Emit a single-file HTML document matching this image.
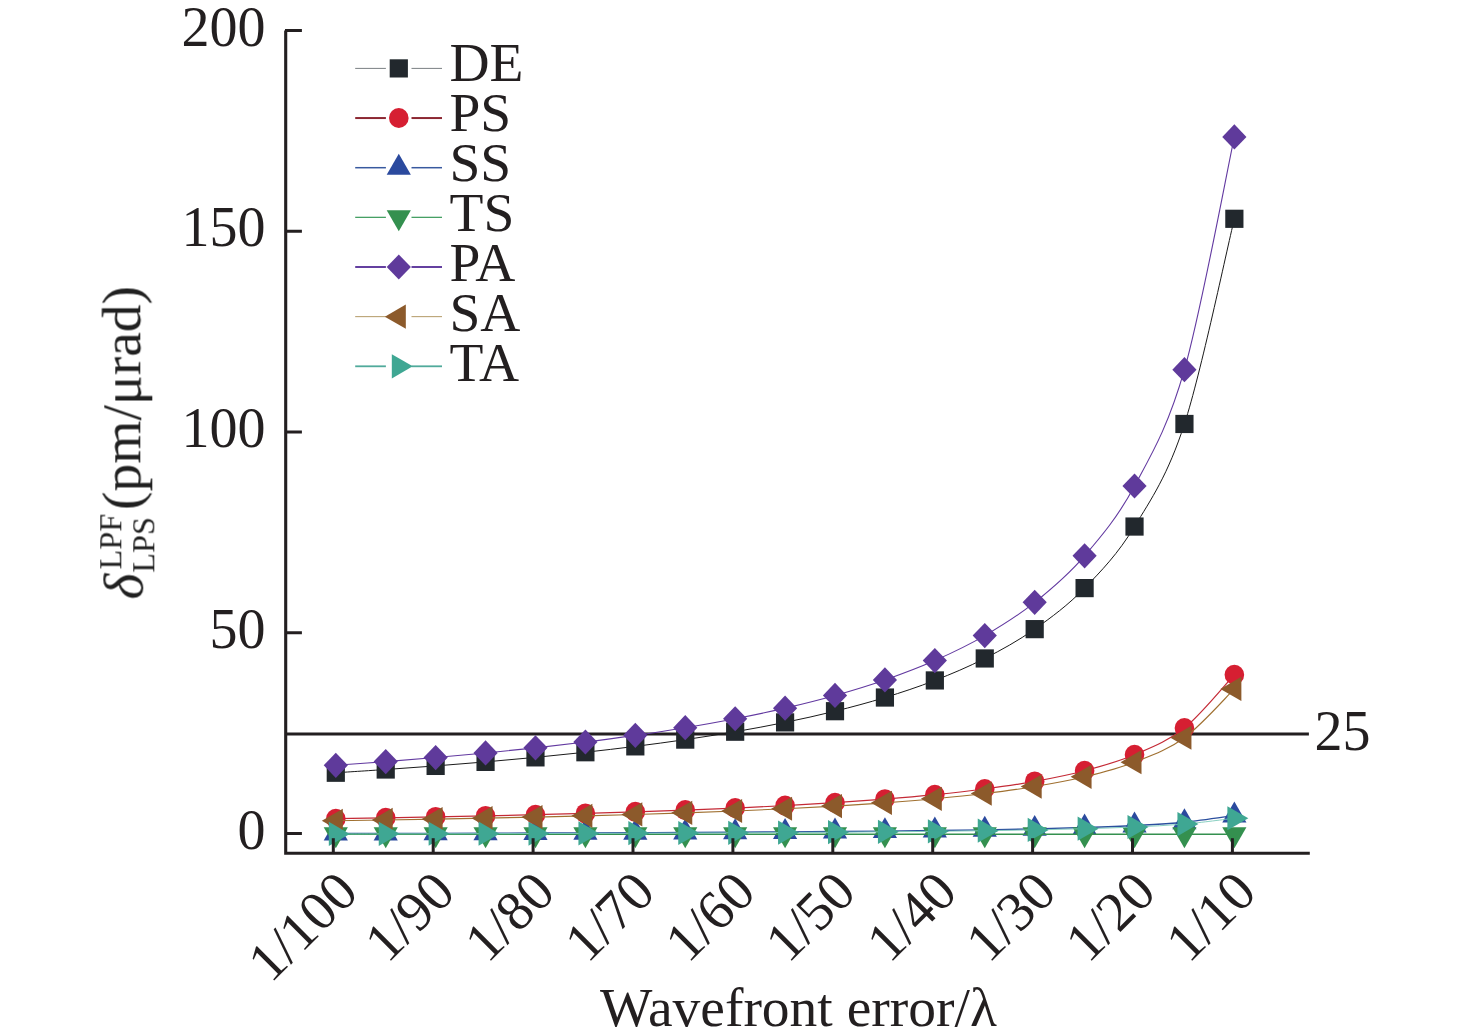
<!DOCTYPE html>
<html><head><meta charset="utf-8"><title>chart</title>
<style>
html,body{margin:0;padding:0;background:#fff;}
body{width:1476px;height:1036px;overflow:hidden;}
svg{display:block;}
text{font-family:"Liberation Serif",serif;fill:#231f20;}
</style></head><body>
<svg width="1476" height="1036" viewBox="0 0 1476 1036">
<defs><filter id="gs" x="-10%" y="-10%" width="120%" height="120%" color-interpolation-filters="sRGB"><feColorMatrix type="saturate" values="0"/></filter></defs>
<rect width="1476" height="1036" fill="#fff"/>
<line x1="286" y1="734" x2="1308.9" y2="734" stroke="#231f20" stroke-width="2.8"/>
<path d="M335.80 772.75C344.12 772.21 369.08 770.65 385.72 769.51C402.36 768.37 419.00 767.18 435.64 765.91C452.28 764.64 468.92 763.32 485.56 761.89C502.20 760.47 518.84 758.97 535.48 757.37C552.12 755.76 568.76 754.07 585.40 752.24C602.04 750.40 618.68 748.48 635.32 746.37C651.96 744.27 668.60 742.05 685.24 739.61C701.88 737.17 718.52 734.59 735.16 731.72C751.80 728.85 768.44 725.81 785.08 722.39C801.72 718.97 818.36 715.35 835.00 711.20C851.64 707.06 868.28 702.65 884.92 697.53C901.56 692.40 918.20 686.94 934.84 680.43C951.48 673.91 968.12 666.99 984.76 658.45C1001.40 649.90 1018.04 640.86 1034.68 629.14C1051.32 617.41 1067.96 605.20 1084.60 588.10C1101.24 571.01 1117.88 553.91 1134.52 526.55C1151.16 499.20 1167.80 475.26 1184.44 423.97C1201.08 372.68 1226.04 253.00 1234.36 218.80" fill="none" stroke="#1a1a1a" stroke-width="1.0"/>
<rect x="326.70" y="763.65" width="18.2" height="18.2" fill="#22282d"/>
<rect x="376.62" y="760.41" width="18.2" height="18.2" fill="#22282d"/>
<rect x="426.54" y="756.81" width="18.2" height="18.2" fill="#22282d"/>
<rect x="476.46" y="752.79" width="18.2" height="18.2" fill="#22282d"/>
<rect x="526.38" y="748.27" width="18.2" height="18.2" fill="#22282d"/>
<rect x="576.30" y="743.14" width="18.2" height="18.2" fill="#22282d"/>
<rect x="626.22" y="737.27" width="18.2" height="18.2" fill="#22282d"/>
<rect x="676.14" y="730.51" width="18.2" height="18.2" fill="#22282d"/>
<rect x="726.06" y="722.62" width="18.2" height="18.2" fill="#22282d"/>
<rect x="775.98" y="713.29" width="18.2" height="18.2" fill="#22282d"/>
<rect x="825.90" y="702.10" width="18.2" height="18.2" fill="#22282d"/>
<rect x="875.82" y="688.43" width="18.2" height="18.2" fill="#22282d"/>
<rect x="925.74" y="671.33" width="18.2" height="18.2" fill="#22282d"/>
<rect x="975.66" y="649.35" width="18.2" height="18.2" fill="#22282d"/>
<rect x="1025.58" y="620.04" width="18.2" height="18.2" fill="#22282d"/>
<rect x="1075.50" y="579.00" width="18.2" height="18.2" fill="#22282d"/>
<rect x="1125.42" y="517.45" width="18.2" height="18.2" fill="#22282d"/>
<rect x="1175.34" y="414.87" width="18.2" height="18.2" fill="#22282d"/>
<rect x="1225.26" y="209.70" width="18.2" height="18.2" fill="#22282d"/>
<path d="M335.80 818.71C344.12 818.57 369.08 818.16 385.72 817.87C402.36 817.57 419.00 817.26 435.64 816.93C452.28 816.60 468.92 816.26 485.56 815.89C502.20 815.52 518.84 815.13 535.48 814.71C552.12 814.29 568.76 813.85 585.40 813.38C602.04 812.90 618.68 812.40 635.32 811.85C651.96 811.31 668.60 810.73 685.24 810.10C701.88 809.46 718.52 808.79 735.16 808.04C751.80 807.30 768.44 806.51 785.08 805.62C801.72 804.73 818.36 803.79 835.00 802.71C851.64 801.64 868.28 800.49 884.92 799.16C901.56 797.83 918.20 796.41 934.84 794.72C951.48 793.02 968.12 791.22 984.76 789.00C1001.40 786.78 1018.04 784.43 1034.68 781.39C1051.32 778.34 1067.96 775.16 1084.60 770.72C1101.24 766.28 1117.88 761.83 1134.52 754.73C1151.16 747.62 1167.80 741.40 1184.44 728.07C1201.08 714.74 1226.04 683.63 1234.36 674.75" fill="none" stroke="#c42a36" stroke-width="1.2"/>
<ellipse cx="335.80" cy="818.71" rx="9.8" ry="10" fill="#d61f32"/>
<ellipse cx="385.72" cy="817.87" rx="9.8" ry="10" fill="#d61f32"/>
<ellipse cx="435.64" cy="816.93" rx="9.8" ry="10" fill="#d61f32"/>
<ellipse cx="485.56" cy="815.89" rx="9.8" ry="10" fill="#d61f32"/>
<ellipse cx="535.48" cy="814.71" rx="9.8" ry="10" fill="#d61f32"/>
<ellipse cx="585.40" cy="813.38" rx="9.8" ry="10" fill="#d61f32"/>
<ellipse cx="635.32" cy="811.85" rx="9.8" ry="10" fill="#d61f32"/>
<ellipse cx="685.24" cy="810.10" rx="9.8" ry="10" fill="#d61f32"/>
<ellipse cx="735.16" cy="808.04" rx="9.8" ry="10" fill="#d61f32"/>
<ellipse cx="785.08" cy="805.62" rx="9.8" ry="10" fill="#d61f32"/>
<ellipse cx="835.00" cy="802.71" rx="9.8" ry="10" fill="#d61f32"/>
<ellipse cx="884.92" cy="799.16" rx="9.8" ry="10" fill="#d61f32"/>
<ellipse cx="934.84" cy="794.72" rx="9.8" ry="10" fill="#d61f32"/>
<ellipse cx="984.76" cy="789.00" rx="9.8" ry="10" fill="#d61f32"/>
<ellipse cx="1034.68" cy="781.39" rx="9.8" ry="10" fill="#d61f32"/>
<ellipse cx="1084.60" cy="770.72" rx="9.8" ry="10" fill="#d61f32"/>
<ellipse cx="1134.52" cy="754.73" rx="9.8" ry="10" fill="#d61f32"/>
<ellipse cx="1184.44" cy="728.07" rx="9.8" ry="10" fill="#d61f32"/>
<ellipse cx="1234.36" cy="674.75" rx="9.8" ry="10" fill="#d61f32"/>
<path d="M335.80 833.55C344.12 833.53 369.08 833.48 385.72 833.44C402.36 833.41 419.00 833.37 435.64 833.33C452.28 833.28 468.92 833.24 485.56 833.20C502.20 833.15 518.84 833.10 535.48 833.05C552.12 833.00 568.76 832.94 585.40 832.88C602.04 832.82 618.68 832.76 635.32 832.69C651.96 832.62 668.60 832.55 685.24 832.47C701.88 832.39 718.52 832.31 735.16 832.22C751.80 832.12 768.44 832.02 785.08 831.91C801.72 831.80 818.36 831.68 835.00 831.55C851.64 831.41 868.28 831.27 884.92 831.10C901.56 830.94 918.20 830.76 934.84 830.55C951.48 830.34 968.12 830.11 984.76 829.83C1001.40 829.56 1018.04 829.26 1034.68 828.88C1051.32 828.50 1067.96 828.11 1084.60 827.55C1101.24 826.99 1117.88 826.44 1134.52 825.55C1151.16 824.66 1167.80 823.88 1184.44 822.22C1201.08 820.55 1226.04 816.66 1234.36 815.55" fill="none" stroke="#2b4f9e" stroke-width="1.4"/>
<path d="M335.80 819.58L347.90 840.53L323.70 840.53Z" fill="#2b4a9e"/>
<path d="M385.72 819.47L397.82 840.43L373.62 840.43Z" fill="#2b4a9e"/>
<path d="M435.64 819.35L447.74 840.31L423.54 840.31Z" fill="#2b4a9e"/>
<path d="M485.56 819.22L497.66 840.18L473.46 840.18Z" fill="#2b4a9e"/>
<path d="M535.48 819.08L547.58 840.03L523.38 840.03Z" fill="#2b4a9e"/>
<path d="M585.40 818.91L597.50 839.87L573.30 839.87Z" fill="#2b4a9e"/>
<path d="M635.32 818.72L647.42 839.68L623.22 839.68Z" fill="#2b4a9e"/>
<path d="M685.24 818.50L697.34 839.46L673.14 839.46Z" fill="#2b4a9e"/>
<path d="M735.16 818.24L747.26 839.20L723.06 839.20Z" fill="#2b4a9e"/>
<path d="M785.08 817.94L797.18 838.90L772.98 838.90Z" fill="#2b4a9e"/>
<path d="M835.00 817.58L847.10 838.53L822.90 838.53Z" fill="#2b4a9e"/>
<path d="M884.92 817.13L897.02 838.09L872.82 838.09Z" fill="#2b4a9e"/>
<path d="M934.84 816.58L946.94 837.53L922.74 837.53Z" fill="#2b4a9e"/>
<path d="M984.76 815.86L996.86 836.82L972.66 836.82Z" fill="#2b4a9e"/>
<path d="M1034.68 814.91L1046.78 835.87L1022.58 835.87Z" fill="#2b4a9e"/>
<path d="M1084.60 813.58L1096.70 834.54L1072.50 834.54Z" fill="#2b4a9e"/>
<path d="M1134.52 811.58L1146.62 832.54L1122.42 832.54Z" fill="#2b4a9e"/>
<path d="M1184.44 808.25L1196.54 829.20L1172.34 829.20Z" fill="#2b4a9e"/>
<path d="M1234.36 801.58L1246.46 822.54L1222.26 822.54Z" fill="#2b4a9e"/>
<path d="M335.80 834.30C344.12 834.30 369.08 834.30 385.72 834.30C402.36 834.30 419.00 834.30 435.64 834.30C452.28 834.30 468.92 834.30 485.56 834.30C502.20 834.30 518.84 834.30 535.48 834.30C552.12 834.30 568.76 834.30 585.40 834.30C602.04 834.30 618.68 834.30 635.32 834.30C651.96 834.30 668.60 834.30 685.24 834.30C701.88 834.30 718.52 834.30 735.16 834.30C751.80 834.30 768.44 834.30 785.08 834.30C801.72 834.30 818.36 834.30 835.00 834.30C851.64 834.30 868.28 834.30 884.92 834.30C901.56 834.30 918.20 834.30 934.84 834.30C951.48 834.30 968.12 834.30 984.76 834.30C1001.40 834.30 1018.04 834.30 1034.68 834.30C1051.32 834.30 1067.96 834.30 1084.60 834.30C1101.24 834.30 1117.88 834.30 1134.52 834.30C1151.16 834.30 1167.80 834.30 1184.44 834.30C1201.08 834.30 1226.04 834.30 1234.36 834.30" fill="none" stroke="#34904f" stroke-width="1.6"/>
<path d="M335.80 848.27L347.90 827.32L323.70 827.32Z" fill="#34904f"/>
<path d="M385.72 848.27L397.82 827.32L373.62 827.32Z" fill="#34904f"/>
<path d="M435.64 848.27L447.74 827.32L423.54 827.32Z" fill="#34904f"/>
<path d="M485.56 848.27L497.66 827.32L473.46 827.32Z" fill="#34904f"/>
<path d="M535.48 848.27L547.58 827.32L523.38 827.32Z" fill="#34904f"/>
<path d="M585.40 848.27L597.50 827.32L573.30 827.32Z" fill="#34904f"/>
<path d="M635.32 848.27L647.42 827.32L623.22 827.32Z" fill="#34904f"/>
<path d="M685.24 848.27L697.34 827.32L673.14 827.32Z" fill="#34904f"/>
<path d="M735.16 848.27L747.26 827.32L723.06 827.32Z" fill="#34904f"/>
<path d="M785.08 848.27L797.18 827.32L772.98 827.32Z" fill="#34904f"/>
<path d="M835.00 848.27L847.10 827.32L822.90 827.32Z" fill="#34904f"/>
<path d="M884.92 848.27L897.02 827.32L872.82 827.32Z" fill="#34904f"/>
<path d="M934.84 848.27L946.94 827.32L922.74 827.32Z" fill="#34904f"/>
<path d="M984.76 848.27L996.86 827.32L972.66 827.32Z" fill="#34904f"/>
<path d="M1034.68 848.27L1046.78 827.32L1022.58 827.32Z" fill="#34904f"/>
<path d="M1084.60 848.27L1096.70 827.32L1072.50 827.32Z" fill="#34904f"/>
<path d="M1134.52 848.27L1146.62 827.32L1122.42 827.32Z" fill="#34904f"/>
<path d="M1184.44 848.27L1196.54 827.32L1172.34 827.32Z" fill="#34904f"/>
<path d="M1234.36 848.27L1246.46 827.32L1222.26 827.32Z" fill="#34904f"/>
<path d="M335.80 765.29C344.12 764.67 369.08 762.90 385.72 761.61C402.36 760.32 419.00 758.97 435.64 757.53C452.28 756.09 468.92 754.58 485.56 752.96C502.20 751.35 518.84 749.66 535.48 747.83C552.12 746.00 568.76 744.09 585.40 742.01C602.04 739.93 618.68 737.75 635.32 735.36C651.96 732.97 668.60 730.46 685.24 727.69C701.88 724.92 718.52 721.99 735.16 718.74C751.80 715.48 768.44 712.04 785.08 708.16C801.72 704.28 818.36 700.17 835.00 695.46C851.64 690.76 868.28 685.77 884.92 679.95C901.56 674.13 918.20 667.94 934.84 660.55C951.48 653.17 968.12 645.32 984.76 635.62C1001.40 625.92 1018.04 615.67 1034.68 602.37C1051.32 589.07 1067.96 575.22 1084.60 555.82C1101.24 536.43 1117.88 517.03 1134.52 486.00C1151.16 454.97 1167.80 427.82 1184.44 369.63C1201.08 311.45 1226.04 175.69 1234.36 136.90" fill="none" stroke="#6239a0" stroke-width="1.1"/>
<path d="M335.80 752.69L347.90 765.29L335.80 777.89L323.70 765.29Z" fill="#5f3a9b"/>
<path d="M385.72 749.01L397.82 761.61L385.72 774.21L373.62 761.61Z" fill="#5f3a9b"/>
<path d="M435.64 744.93L447.74 757.53L435.64 770.13L423.54 757.53Z" fill="#5f3a9b"/>
<path d="M485.56 740.36L497.66 752.96L485.56 765.56L473.46 752.96Z" fill="#5f3a9b"/>
<path d="M535.48 735.23L547.58 747.83L535.48 760.43L523.38 747.83Z" fill="#5f3a9b"/>
<path d="M585.40 729.41L597.50 742.01L585.40 754.61L573.30 742.01Z" fill="#5f3a9b"/>
<path d="M635.32 722.76L647.42 735.36L635.32 747.96L623.22 735.36Z" fill="#5f3a9b"/>
<path d="M685.24 715.09L697.34 727.69L685.24 740.29L673.14 727.69Z" fill="#5f3a9b"/>
<path d="M735.16 706.14L747.26 718.74L735.16 731.34L723.06 718.74Z" fill="#5f3a9b"/>
<path d="M785.08 695.56L797.18 708.16L785.08 720.76L772.98 708.16Z" fill="#5f3a9b"/>
<path d="M835.00 682.86L847.10 695.46L835.00 708.06L822.90 695.46Z" fill="#5f3a9b"/>
<path d="M884.92 667.35L897.02 679.95L884.92 692.55L872.82 679.95Z" fill="#5f3a9b"/>
<path d="M934.84 647.95L946.94 660.55L934.84 673.15L922.74 660.55Z" fill="#5f3a9b"/>
<path d="M984.76 623.02L996.86 635.62L984.76 648.22L972.66 635.62Z" fill="#5f3a9b"/>
<path d="M1034.68 589.77L1046.78 602.37L1034.68 614.97L1022.58 602.37Z" fill="#5f3a9b"/>
<path d="M1084.60 543.22L1096.70 555.82L1084.60 568.42L1072.50 555.82Z" fill="#5f3a9b"/>
<path d="M1134.52 473.40L1146.62 486.00L1134.52 498.60L1122.42 486.00Z" fill="#5f3a9b"/>
<path d="M1184.44 357.03L1196.54 369.63L1184.44 382.23L1172.34 369.63Z" fill="#5f3a9b"/>
<path d="M1234.36 124.30L1246.46 136.90L1234.36 149.50L1222.26 136.90Z" fill="#5f3a9b"/>
<path d="M335.80 820.74C344.12 820.62 369.08 820.24 385.72 819.97C402.36 819.70 419.00 819.42 435.64 819.12C452.28 818.82 468.92 818.50 485.56 818.16C502.20 817.82 518.84 817.47 535.48 817.08C552.12 816.70 568.76 816.30 585.40 815.86C602.04 815.43 618.68 814.97 635.32 814.47C651.96 813.97 668.60 813.44 685.24 812.86C701.88 812.28 718.52 811.67 735.16 810.98C751.80 810.30 768.44 809.58 785.08 808.76C801.72 807.95 818.36 807.09 835.00 806.10C851.64 805.12 868.28 804.07 884.92 802.85C901.56 801.63 918.20 800.33 934.84 798.78C951.48 797.23 968.12 795.58 984.76 793.55C1001.40 791.52 1018.04 789.37 1034.68 786.58C1051.32 783.79 1067.96 780.88 1084.60 776.82C1101.24 772.75 1117.88 768.68 1134.52 762.17C1151.16 755.67 1167.80 749.97 1184.44 737.77C1201.08 725.57 1226.04 697.09 1234.36 688.96" fill="none" stroke="#a07030" stroke-width="1.1"/>
<path d="M321.83 820.74L342.79 808.64L342.79 832.84Z" fill="#8c5a2b"/>
<path d="M371.75 819.97L392.71 807.87L392.71 832.07Z" fill="#8c5a2b"/>
<path d="M421.67 819.12L442.63 807.02L442.63 831.22Z" fill="#8c5a2b"/>
<path d="M471.59 818.16L492.55 806.06L492.55 830.26Z" fill="#8c5a2b"/>
<path d="M521.51 817.08L542.47 804.98L542.47 829.18Z" fill="#8c5a2b"/>
<path d="M571.43 815.86L592.39 803.76L592.39 827.96Z" fill="#8c5a2b"/>
<path d="M621.35 814.47L642.31 802.37L642.31 826.57Z" fill="#8c5a2b"/>
<path d="M671.27 812.86L692.23 800.76L692.23 824.96Z" fill="#8c5a2b"/>
<path d="M721.19 810.98L742.15 798.88L742.15 823.08Z" fill="#8c5a2b"/>
<path d="M771.11 808.76L792.07 796.66L792.07 820.86Z" fill="#8c5a2b"/>
<path d="M821.03 806.10L841.99 794.00L841.99 818.20Z" fill="#8c5a2b"/>
<path d="M870.95 802.85L891.91 790.75L891.91 814.95Z" fill="#8c5a2b"/>
<path d="M920.87 798.78L941.83 786.68L941.83 810.88Z" fill="#8c5a2b"/>
<path d="M970.79 793.55L991.75 781.45L991.75 805.65Z" fill="#8c5a2b"/>
<path d="M1020.71 786.58L1041.67 774.48L1041.67 798.68Z" fill="#8c5a2b"/>
<path d="M1070.63 776.82L1091.59 764.72L1091.59 788.92Z" fill="#8c5a2b"/>
<path d="M1120.55 762.17L1141.51 750.07L1141.51 774.27Z" fill="#8c5a2b"/>
<path d="M1170.47 737.77L1191.43 725.67L1191.43 749.87Z" fill="#8c5a2b"/>
<path d="M1220.39 688.96L1241.35 676.86L1241.35 701.06Z" fill="#8c5a2b"/>
<path d="M335.80 833.96C344.12 833.95 369.08 833.90 385.72 833.87C402.36 833.84 419.00 833.80 435.64 833.77C452.28 833.73 468.92 833.69 485.56 833.65C502.20 833.61 518.84 833.57 535.48 833.53C552.12 833.48 568.76 833.43 585.40 833.38C602.04 833.33 618.68 833.27 635.32 833.21C651.96 833.15 668.60 833.09 685.24 833.02C701.88 832.95 718.52 832.88 735.16 832.80C751.80 832.72 768.44 832.63 785.08 832.53C801.72 832.44 818.36 832.33 835.00 832.22C851.64 832.10 868.28 831.97 884.92 831.83C901.56 831.68 918.20 831.53 934.84 831.34C951.48 831.16 968.12 830.96 984.76 830.72C1001.40 830.48 1018.04 830.22 1034.68 829.89C1051.32 829.55 1067.96 829.21 1084.60 828.72C1101.24 828.24 1117.88 827.75 1134.52 826.98C1151.16 826.20 1167.80 825.52 1184.44 824.06C1201.08 822.61 1226.04 819.21 1234.36 818.24" fill="none" stroke="#7cc9ba" stroke-width="0.9"/>
<path d="M349.77 833.96L328.81 821.86L328.81 846.06Z" fill="#3fa793"/>
<path d="M399.69 833.87L378.73 821.77L378.73 845.97Z" fill="#3fa793"/>
<path d="M449.61 833.77L428.65 821.67L428.65 845.87Z" fill="#3fa793"/>
<path d="M499.53 833.65L478.57 821.55L478.57 845.75Z" fill="#3fa793"/>
<path d="M549.45 833.53L528.49 821.43L528.49 845.63Z" fill="#3fa793"/>
<path d="M599.37 833.38L578.41 821.28L578.41 845.48Z" fill="#3fa793"/>
<path d="M649.29 833.21L628.33 821.11L628.33 845.31Z" fill="#3fa793"/>
<path d="M699.21 833.02L678.25 820.92L678.25 845.12Z" fill="#3fa793"/>
<path d="M749.13 832.80L728.17 820.70L728.17 844.90Z" fill="#3fa793"/>
<path d="M799.05 832.53L778.09 820.43L778.09 844.63Z" fill="#3fa793"/>
<path d="M848.97 832.22L828.01 820.12L828.01 844.32Z" fill="#3fa793"/>
<path d="M898.89 831.83L877.93 819.73L877.93 843.93Z" fill="#3fa793"/>
<path d="M948.81 831.34L927.85 819.24L927.85 843.44Z" fill="#3fa793"/>
<path d="M998.73 830.72L977.77 818.62L977.77 842.82Z" fill="#3fa793"/>
<path d="M1048.65 829.89L1027.69 817.79L1027.69 841.99Z" fill="#3fa793"/>
<path d="M1098.57 828.72L1077.61 816.62L1077.61 840.82Z" fill="#3fa793"/>
<path d="M1148.49 826.98L1127.53 814.88L1127.53 839.08Z" fill="#3fa793"/>
<path d="M1198.41 824.06L1177.45 811.96L1177.45 836.16Z" fill="#3fa793"/>
<path d="M1248.33 818.24L1227.37 806.14L1227.37 830.34Z" fill="#3fa793"/>
<path d="M285.7 30.5V853.3H1309.8" fill="none" stroke="#231f20" stroke-width="3.1" stroke-linejoin="miter"/>
<line x1="285" y1="833.50" x2="301.9" y2="833.50" stroke="#231f20" stroke-width="3"/>
<line x1="285" y1="632.75" x2="301.9" y2="632.75" stroke="#231f20" stroke-width="3"/>
<line x1="285" y1="432.00" x2="301.9" y2="432.00" stroke="#231f20" stroke-width="3"/>
<line x1="285" y1="231.25" x2="301.9" y2="231.25" stroke="#231f20" stroke-width="3"/>
<line x1="285" y1="30.50" x2="301.9" y2="30.50" stroke="#231f20" stroke-width="3"/>
<line x1="333.30" y1="838.2" x2="333.30" y2="853" stroke="#231f20" stroke-width="3"/>
<line x1="433.20" y1="838.2" x2="433.20" y2="853" stroke="#231f20" stroke-width="3"/>
<line x1="533.10" y1="838.2" x2="533.10" y2="853" stroke="#231f20" stroke-width="3"/>
<line x1="633.00" y1="838.2" x2="633.00" y2="853" stroke="#231f20" stroke-width="3"/>
<line x1="732.90" y1="838.2" x2="732.90" y2="853" stroke="#231f20" stroke-width="3"/>
<line x1="832.80" y1="838.2" x2="832.80" y2="853" stroke="#231f20" stroke-width="3"/>
<line x1="932.70" y1="838.2" x2="932.70" y2="853" stroke="#231f20" stroke-width="3"/>
<line x1="1032.60" y1="838.2" x2="1032.60" y2="853" stroke="#231f20" stroke-width="3"/>
<line x1="1132.50" y1="838.2" x2="1132.50" y2="853" stroke="#231f20" stroke-width="3"/>
<line x1="1232.40" y1="838.2" x2="1232.40" y2="853" stroke="#231f20" stroke-width="3"/>
<text x="265.4" y="848.60" font-size="56" text-anchor="end">0</text>
<text x="265.4" y="647.85" font-size="56" text-anchor="end">50</text>
<text x="265.4" y="447.10" font-size="56" text-anchor="end">100</text>
<text x="265.4" y="246.35" font-size="56" text-anchor="end">150</text>
<text x="265.4" y="45.60" font-size="56" text-anchor="end">200</text>
<text x="1314.6" y="750.0" font-size="56">25</text>
<text transform="translate(360.25 894.60) rotate(-45)" font-size="55.5" text-anchor="end">1/100</text>
<text transform="translate(457.25 894.60) rotate(-45)" font-size="55.5" text-anchor="end">1/90</text>
<text transform="translate(557.25 894.60) rotate(-45)" font-size="55.5" text-anchor="end">1/80</text>
<text transform="translate(657.25 894.60) rotate(-45)" font-size="55.5" text-anchor="end">1/70</text>
<text transform="translate(757.75 894.60) rotate(-45)" font-size="55.5" text-anchor="end">1/60</text>
<text transform="translate(858.00 894.60) rotate(-45)" font-size="55.5" text-anchor="end">1/50</text>
<text transform="translate(959.25 894.60) rotate(-45)" font-size="55.5" text-anchor="end">1/40</text>
<text transform="translate(1058.50 894.60) rotate(-45)" font-size="55.5" text-anchor="end">1/30</text>
<text transform="translate(1158.00 894.60) rotate(-45)" font-size="55.5" text-anchor="end">1/20</text>
<text transform="translate(1258.50 894.60) rotate(-45)" font-size="55.5" text-anchor="end">1/10</text>
<text x="798.4" y="1025.6" font-size="55.5" text-anchor="middle">Wavefront error/λ</text>
<g transform="translate(140.3 599.5) rotate(-90)" filter="url(#gs)"><text x="0" y="1.7" font-size="55.5" font-style="italic">δ</text><text x="30.1" y="-19.0" font-size="32.3">LPF</text><text x="26.8" y="14.3" font-size="32.3">LPS</text><text x="89.6" y="0" font-size="55.5">(pm/μrad)</text></g>
<line x1="355.2" y1="68.40" x2="385.9" y2="68.40" stroke="#20282d" stroke-width="0.6"/>
<line x1="411.5" y1="68.40" x2="442" y2="68.40" stroke="#20282d" stroke-width="0.6"/>
<rect x="389.70" y="59.30" width="18.2" height="18.2" fill="#22282d"/>
<text x="449.5" y="80.70" font-size="55.5">DE</text>
<line x1="355.2" y1="118.05" x2="385.9" y2="118.05" stroke="#8c2631" stroke-width="2.0"/>
<line x1="411.5" y1="118.05" x2="442" y2="118.05" stroke="#8c2631" stroke-width="2.0"/>
<ellipse cx="398.80" cy="118.05" rx="9.8" ry="10" fill="#d61f32"/>
<text x="449.5" y="130.70" font-size="55.5">PS</text>
<line x1="355.2" y1="167.70" x2="385.9" y2="167.70" stroke="#38599f" stroke-width="1.5"/>
<line x1="411.5" y1="167.70" x2="442" y2="167.70" stroke="#38599f" stroke-width="1.5"/>
<path d="M398.80 153.73L410.90 174.69L386.70 174.69Z" fill="#2b4a9e"/>
<text x="449.5" y="180.70" font-size="55.5">SS</text>
<line x1="355.2" y1="217.35" x2="385.9" y2="217.35" stroke="#46a064" stroke-width="1.3"/>
<line x1="411.5" y1="217.35" x2="442" y2="217.35" stroke="#46a064" stroke-width="1.3"/>
<path d="M398.80 231.32L410.90 210.36L386.70 210.36Z" fill="#34904f"/>
<text x="449.5" y="230.70" font-size="55.5">TS</text>
<line x1="355.2" y1="267.00" x2="385.9" y2="267.00" stroke="#6440a0" stroke-width="2.0"/>
<line x1="411.5" y1="267.00" x2="442" y2="267.00" stroke="#6440a0" stroke-width="2.0"/>
<path d="M398.80 254.40L410.90 267.00L398.80 279.60L386.70 267.00Z" fill="#5f3a9b"/>
<text x="449.5" y="280.70" font-size="55.5">PA</text>
<line x1="355.2" y1="316.65" x2="385.9" y2="316.65" stroke="#a08040" stroke-width="0.8"/>
<line x1="411.5" y1="316.65" x2="442" y2="316.65" stroke="#a08040" stroke-width="0.8"/>
<path d="M384.83 316.65L405.79 304.55L405.79 328.75Z" fill="#8c5a2b"/>
<text x="449.5" y="330.70" font-size="55.5">SA</text>
<line x1="355.2" y1="366.30" x2="385.9" y2="366.30" stroke="#50aa9b" stroke-width="1.8"/>
<line x1="411.5" y1="366.30" x2="442" y2="366.30" stroke="#50aa9b" stroke-width="1.8"/>
<path d="M412.77 366.30L391.81 354.20L391.81 378.40Z" fill="#3fa793"/>
<text x="449.5" y="380.70" font-size="55.5">TA</text>
</svg></body></html>
